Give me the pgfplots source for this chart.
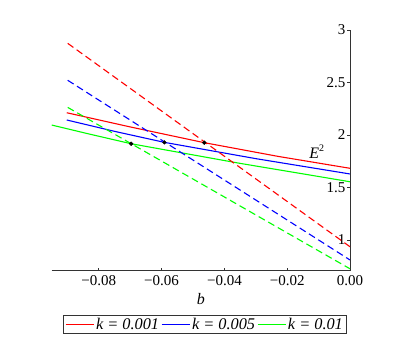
\documentclass[border=0pt]{standalone}
\usepackage{fontspec}
\setmainfont{Liberation Serif}
\usepackage{pgfplots}
\pgfplotsset{compat=1.18}

\begin{document}
\begin{tikzpicture}[x=1pt,y=1pt]
\begin{axis}[
    scale only axis,
    width=298.3pt, height=240.7pt,
    xmin=-0.095, xmax=0, ymin=0.708, ymax=3,
    axis x line=bottom, axis y line=right,
    axis line style={black!80, line width=0.8pt, -},
    tick align=inside, major tick length=3pt,
    tick style={black!80, line width=0.7pt},
    scaled x ticks=false,
    xtick={-0.08,-0.06,-0.04,-0.02,0},
    xticklabels={\textrm{−0.08},\textrm{−0.06},\textrm{−0.04},\textrm{−0.02},\textrm{0.00}},
    ytick={1,1.5,2,2.5,3},
    yticklabels={\textrm{1},\textrm{1.5},\textrm{2},\textrm{2.5},\textrm{3}},
    yticklabel style={anchor=east, xshift=-3.5pt, inner xsep=1pt},
    xticklabel style={yshift=-1pt},
    tick label style={font=\rmfamily\fontsize{15}{16}\selectfont},
    xlabel={\textit{b}},
    xlabel style={at={(0.5,0)}, anchor=north, yshift=-19pt, font=\fontsize{16}{17}\selectfont},
    legend columns=3,
    legend style={at={(0.514,-0.2235)}, anchor=center, draw=black!80, line width=0.8pt,
        font=\fontsize{16.3}{18}\selectfont, inner xsep=2pt, inner ysep=1pt,
        /tikz/every even column/.append style={column sep=0pt}},
    legend image code/.code={\draw[#1, line width=0.9pt] (0pt,0pt) -- (28pt,0pt);},
]
% solid curves
\addplot[red, line width=1.1pt] coordinates {
    (-0.0902,2.212) (-0.070,2.077) (-0.0464,1.927) (-0.023,1.797) (0,1.683)};
\addlegendentry{\textit{k = 0.001}}
\addplot[blue, line width=1.1pt] coordinates {
    (-0.0902,2.143) (-0.075,2.035) (-0.0591,1.930) (-0.030,1.775) (0,1.629)};
\addlegendentry{\textit{k = 0.005}}
\addplot[green, line width=1.1pt] coordinates {
    (-0.095,2.095) (-0.083,2.009) (-0.0697,1.917) (-0.035,1.730) (0,1.555)};
\addlegendentry{\textit{k = 0.01}}
% dashed lines
\addplot[red, line width=1.1pt, dash pattern=on 7pt off 4pt, forget plot] coordinates {
    (-0.0899,2.873) (0,0.936)};
\addplot[blue, line width=1.1pt, dash pattern=on 7pt off 4pt, forget plot] coordinates {
    (-0.0899,2.521) (0,0.810)};
\addplot[green, line width=1.1pt, dash pattern=on 7pt off 4pt, forget plot] coordinates {
    (-0.0899,2.263) (0,0.726)};
% intersection points
\addplot[only marks, mark=*, mark size=1.9pt, black, forget plot] coordinates {
    (-0.0464,1.927) (-0.0591,1.930) (-0.0697,1.917)};
\node[font=\fontsize{16}{17}\selectfont] at (axis cs:-0.0106,1.84) {\textit{E}\raisebox{1.0ex}{\fontsize{10}{11}\selectfont 2}};
\end{axis}
\pgfresetboundingbox
\path (-51.7,-84.3) rectangle (341.3,270.7);
\end{tikzpicture}
\end{document}
